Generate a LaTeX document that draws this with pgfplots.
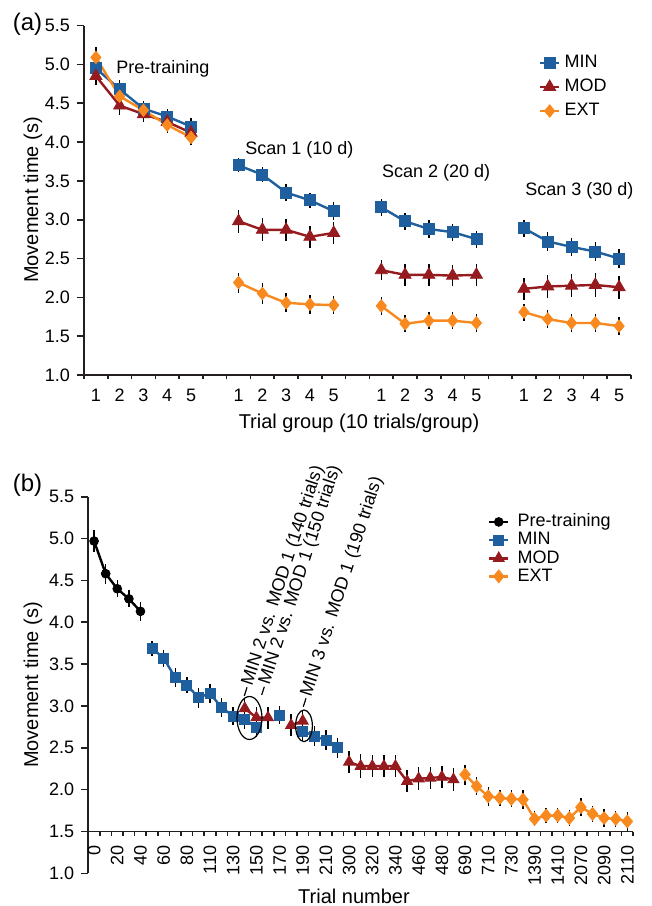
\documentclass[border=0pt]{standalone}
\usepackage{fontspec}
\setmainfont{Liberation Sans}
\usepackage{pgfplots}
\pgfplotsset{compat=1.18}
\definecolor{minblue}{HTML}{1F5F9E}
\definecolor{modred}{HTML}{961B1F}
\definecolor{extorange}{HTML}{F7891E}
\definecolor{axisgray}{HTML}{231F20}

\pgfplotsset{
  mtstyle/.style={
    scale only axis,
    axis lines=left,
    axis line style={-, axisgray, line width=0.8pt},
    tick align=outside,
    major tick length=3.5pt,
    minor tick length=2.2pt,
    tick style={axisgray, line width=0.8pt},
    major x tick style={draw=none},
    ymin=1, ymax=5.5,
    ytick={1,1.5,2,2.5,3,3.5,4,4.5,5,5.5},
    yticklabel style={/pgf/number format/.cd, fixed, fixed zerofill, precision=1},
    /pgf/number format/assume math mode=true,
    tick label style={font=\fontsize{9}{10}\selectfont},
    clip=false,
    legend cell align=left,
    legend image code/.code={\draw[mark repeat=2,mark phase=2]
      plot coordinates {(0pt,0pt)(4.75pt,0pt)(9.5pt,0pt)};},
  },
  ebar/.style={error bars/y dir=both, error bars/y explicit, error bars/error mark=none,
    error bars/error bar style={black, line width=0.7pt, solid}},
  minS/.style={minblue, line width=1.2pt, mark=square*, mark size=2.75pt,
    mark options={solid, line width=0.4pt}, ebar},
  modS/.style={modred, line width=1.2pt, mark=triangle*, mark size=3.5pt,
    mark options={solid, line width=0.4pt}, ebar},
  extS/.style={extorange, line width=1.2pt, mark=diamond*, mark size=3.1pt,
    mark options={solid, line width=0.4pt, xscale=1.1}, ebar},
  preS/.style={black, line width=1.2pt, mark=*, mark size=2.2pt,
    mark options={solid, line width=0.4pt}, ebar},
}

\begin{document}
\begin{tikzpicture}
\path[use as bounding box] (0,0) rectangle (326pt,-453pt);

% ---------------- panel (a)
\begin{axis}[mtstyle,
  at={(42pt,-187.5pt)}, anchor=south west,
  width=273.5pt, height=174.7pt,
  xmin=0, xmax=23,
  xtick={0.5,1.5,2.5,3.5,4.5,6.5,7.5,8.5,9.5,10.5,12.5,13.5,14.5,15.5,16.5,18.5,19.5,20.5,21.5,22.5},
  xticklabels={1,2,3,4,5,1,2,3,4,5,1,2,3,4,5,1,2,3,4,5},
  minor xtick={0,1,...,23},
  legend style={draw=none, fill=none, at={(0.831,0.92)}, anchor=north west,
    font=\fontsize{9}{10}\selectfont, inner sep=0pt, row sep=3.1pt,
    nodes={inner sep=0.6pt}, /tikz/every odd column/.style={column sep=1.5pt}},
]
\addplot[minS] coordinates {(0.5,4.95)+-(0,0.12) (1.5,4.68)+-(0,0.12) (2.5,4.43)+-(0,0.10) (3.5,4.33)+-(0,0.10) (4.5,4.20)+-(0,0.11)};
\addlegendentry{MIN}
\addplot[minS, forget plot] coordinates {(6.5,3.70)+-(0,0.09) (7.5,3.58)+-(0,0.10) (8.5,3.35)+-(0,0.11) (9.5,3.25)+-(0,0.10) (10.5,3.11)+-(0,0.12)};
\addplot[minS, forget plot] coordinates {(12.5,3.16)+-(0,0.11) (13.5,2.98)+-(0,0.11) (14.5,2.88)+-(0,0.11) (15.5,2.84)+-(0,0.11) (16.5,2.75)+-(0,0.11)};
\addplot[minS, forget plot] coordinates {(18.5,2.89)+-(0,0.11) (19.5,2.72)+-(0,0.12) (20.5,2.65)+-(0,0.12) (21.5,2.59)+-(0,0.12) (22.5,2.50)+-(0,0.12)};
\addplot[modS] coordinates {(0.5,4.85)+-(0,0.12) (1.5,4.47)+-(0,0.12) (2.5,4.36)+-(0,0.10) (3.5,4.26)+-(0,0.10) (4.5,4.12)+-(0,0.11)};
\addlegendentry{MOD}
\addplot[modS, forget plot] coordinates {(6.5,2.98)+-(0,0.15) (7.5,2.87)+-(0,0.15) (8.5,2.87)+-(0,0.14) (9.5,2.78)+-(0,0.14) (10.5,2.83)+-(0,0.14)};
\addplot[modS, forget plot] coordinates {(12.5,2.35)+-(0,0.13) (13.5,2.29)+-(0,0.14) (14.5,2.29)+-(0,0.14) (15.5,2.28)+-(0,0.14) (16.5,2.29)+-(0,0.14)};
\addplot[modS, forget plot] coordinates {(18.5,2.11)+-(0,0.14) (19.5,2.14)+-(0,0.15) (20.5,2.15)+-(0,0.15) (21.5,2.16)+-(0,0.15) (22.5,2.13)+-(0,0.15)};
\addplot[extS] coordinates {(0.5,5.09)+-(0,0.13) (1.5,4.59)+-(0,0.12) (2.5,4.41)+-(0,0.10) (3.5,4.22)+-(0,0.10) (4.5,4.06)+-(0,0.10)};
\addlegendentry{EXT}
\addplot[extS, forget plot] coordinates {(6.5,2.19)+-(0,0.13) (7.5,2.05)+-(0,0.13) (8.5,1.93)+-(0,0.12) (9.5,1.91)+-(0,0.12) (10.5,1.90)+-(0,0.12)};
\addplot[extS, forget plot] coordinates {(12.5,1.89)+-(0,0.12) (13.5,1.66)+-(0,0.11) (14.5,1.70)+-(0,0.11) (15.5,1.70)+-(0,0.11) (16.5,1.67)+-(0,0.11)};
\addplot[extS, forget plot] coordinates {(18.5,1.81)+-(0,0.11) (19.5,1.72)+-(0,0.12) (20.5,1.67)+-(0,0.12) (21.5,1.67)+-(0,0.12) (22.5,1.63)+-(0,0.12)};
\end{axis}

% ---------------- panel (b)
\begin{axis}[mtstyle,
  at={(44.15pt,-436.65pt)}, anchor=south west,
  width=272.4pt, height=188.3pt,
  xmin=-0.5, xmax=46.5,
  xtick={0,1,...,46},
  xticklabels={0,,20,,40,,60,,80,,110,,130,,150,,170,,190,,210,,300,,320,,340,,460,,480,,690,,710,,730,,1390,,1410,,2070,,2090,,2110},
  minor xtick={-0.5,0.5,...,46.5},
  axis x line shift=-20.9pt,
  xticklabel style={rotate=90, anchor=east},
  legend style={draw=none, fill=none, at={(0.733,0.957)}, anchor=north west,
    font=\fontsize{9}{10}\selectfont, inner sep=0pt, row sep=0.7pt,
    nodes={inner sep=0.3pt}, /tikz/every odd column/.style={column sep=3.8pt}},
]
\addplot[preS] coordinates {(0,4.97)+-(0,0.13) (1,4.58)+-(0,0.12) (2,4.40)+-(0,0.10) (3,4.28)+-(0,0.10) (4,4.13)+-(0,0.11)};
\addlegendentry{Pre-training}
\addplot[minS, mark size=2.5pt] coordinates {(5,3.69)+-(0,0.09) (6,3.57)+-(0,0.10) (7,3.34)+-(0,0.11) (8,3.25)+-(0,0.10) (9,3.10)+-(0,0.12)
  (10,3.15)+-(0,0.11) (11,2.98)+-(0,0.11) (12,2.88)+-(0,0.11) (13,2.84)+-(0,0.11) (14,2.74)+-(0,0.11)};
\addlegendentry{MIN}
\addplot[minS, mark size=2.5pt, forget plot] coordinates {(16,2.89)+-(0,0.11)};
\addplot[minS, mark size=2.5pt, forget plot] coordinates {(18,2.70)+-(0,0.12) (19,2.64)+-(0,0.12) (20,2.59)+-(0,0.12) (21,2.50)+-(0,0.12)};
\addplot[modS, mark size=3.2pt] coordinates {(13,2.97)+-(0,0.13) (14,2.86)+-(0,0.13) (15,2.86)+-(0,0.13)};
\addlegendentry{MOD}
\addplot[modS, mark size=3.2pt, forget plot] coordinates {(17,2.77)+-(0,0.13) (18,2.82)+-(0,0.13)};
\addplot[modS, mark size=3.2pt, forget plot] coordinates {(22,2.33)+-(0,0.13) (23,2.28)+-(0,0.14) (24,2.28)+-(0,0.13) (25,2.28)+-(0,0.13) (26,2.28)+-(0,0.13)
  (27,2.10)+-(0,0.13) (28,2.13)+-(0,0.14) (29,2.14)+-(0,0.13) (30,2.15)+-(0,0.13) (31,2.12)+-(0,0.14)};
\addplot[extS, mark size=3.2pt] coordinates {(32,2.18)+-(0,0.12) (33,2.04)+-(0,0.11) (34,1.92)+-(0,0.11) (35,1.90)+-(0,0.10) (36,1.89)+-(0,0.10)
  (37,1.88)+-(0,0.11) (38,1.65)+-(0,0.09) (39,1.69)+-(0,0.09) (40,1.69)+-(0,0.09) (41,1.66)+-(0,0.10)
  (42,1.79)+-(0,0.11) (43,1.71)+-(0,0.10) (44,1.66)+-(0,0.11) (45,1.65)+-(0,0.10) (46,1.62)+-(0,0.11)};
\addlegendentry{EXT}
\end{axis}

% ---------------- texts and annotations (pixel grid of the reference)
\begin{scope}[x=0.5pt, y=-0.5pt, every node/.style={inner sep=0pt}]
  \node[anchor=base west, font=\fontsize{12}{14}\selectfont] at (12.5,30) {(a)};
  \node[anchor=base west, font=\fontsize{12}{14}\selectfont] at (12.5,491.5) {(b)};
  \node[anchor=base west, font=\fontsize{9}{10}\selectfont] at (116,73) {Pre-training};
  \node[anchor=base west, font=\fontsize{9}{10}\selectfont] at (245,154.3) {Scan 1 (10 d)};
  \node[anchor=base west, font=\fontsize{9}{10}\selectfont] at (381.7,177.5) {Scan 2 (20 d)};
  \node[anchor=base west, font=\fontsize{9}{10}\selectfont] at (525,195) {Scan 3 (30 d)};
  \node[rotate=90, font=\fontsize{10}{12}\selectfont] at (33,200) {Movement time (s)};
  \node[rotate=90, font=\fontsize{10}{12}\selectfont] at (33,685) {Movement time (s)};
  \node[anchor=base, font=\fontsize{10}{12}\selectfont] at (359,428) {Trial group (10 trials/group)};
  \node[anchor=base, font=\fontsize{10}{12}\selectfont] at (354,903) {Trial number};
  \draw[line width=0.6pt] (249.5,718) ellipse [x radius=6.25pt, y radius=10.75pt];
  \draw[line width=0.6pt] (304,725.8) ellipse [x radius=4.2pt, y radius=7.9pt];
  \draw[line width=0.6pt] (244.3,696) -- (247,687.3);
  \draw[line width=0.6pt] (261.7,695) -- (264.3,686.7);
  \draw[line width=0.6pt] (303.3,706.7) -- (306,698.3);
  \node[rotate=72, anchor=west, font=\fontsize{9}{10}\selectfont] at (247.6,685.5) {MIN 2 vs. MOD 1 (140 trials)};
  \node[rotate=72, anchor=west, font=\fontsize{9}{10}\selectfont] at (264.9,684.9) {MIN 2 vs. MOD 1 (150 trials)};
  \node[rotate=72, anchor=west, font=\fontsize{9}{10}\selectfont] at (306.6,696.5) {MIN 3 vs. MOD 1 (190 trials)};
\end{scope}
\end{tikzpicture}
\end{document}
